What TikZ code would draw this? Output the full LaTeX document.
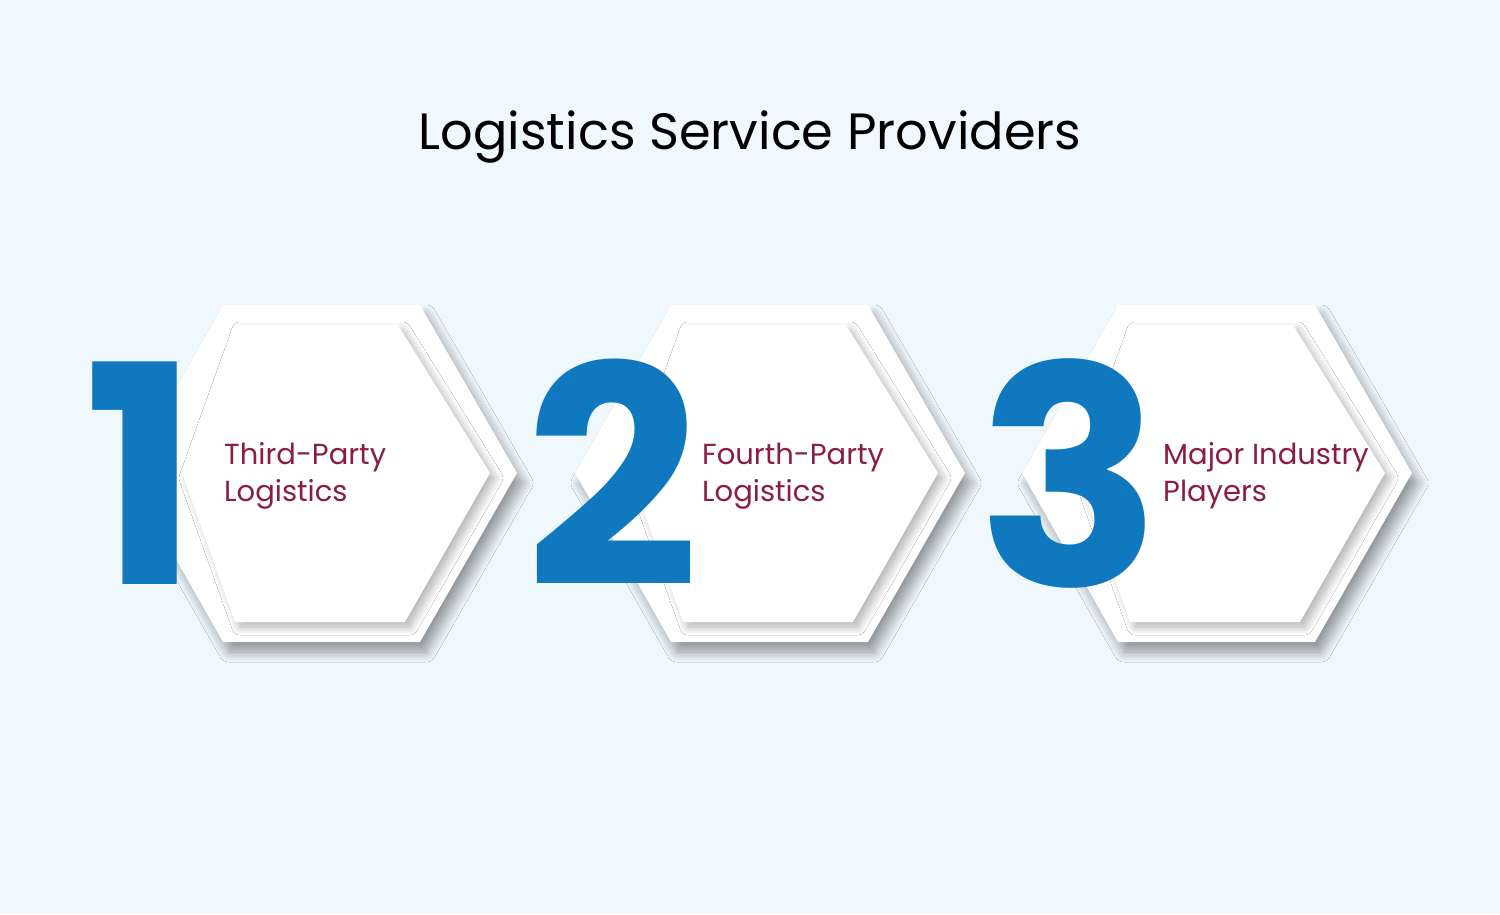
\documentclass[tikz,border=0pt]{standalone}
\usepackage{fontspec}
\setmainfont{Poppins}
\usetikzlibrary{shadows.blur}
\definecolor{bgblue}{HTML}{EEF8FD}
\definecolor{numblue}{HTML}{0F78BE}
\definecolor{labred}{HTML}{8A1C46}
\tikzset{
  outerhex/.style={fill=white,blur shadow={shadow xshift=6pt,shadow yshift=-10pt,shadow blur radius=10pt,shadow blur steps=12,shadow opacity=40}},
  innerhex/.style={fill=white,blur shadow={shadow xshift=5pt,shadow yshift=-5pt,shadow blur radius=8pt,shadow blur steps=10,shadow opacity=30}},
  numlabel/.style={text=numblue,font=\fontsize{305}{305}\selectfont\bfseries,inner sep=0},
  itemlabel/.style={text=labred,font=\fontsize{29}{37}\selectfont,align=left,anchor=west,inner sep=0}
}
\begin{document}
\begin{tikzpicture}[x=1pt,y=-1pt]
\fill[bgblue](0,0)rectangle(1500,914);
\useasboundingbox(0,0)rectangle(1500,914);
\node[font=\fontsize{51}{54}\selectfont,inner sep=0](title)at(750,137){Logistics Service Providers};
\foreach \dx in {0,448,895}{
  \begin{scope}[xshift=\dx]
  \path[outerhex](223,305)--(420,305)--(517,473)--(420,642)--(223,642)--(127,473)--cycle;
  \path[innerhex](235,325)--(398,325)--(490,473)--(405,622)--(235,622)--(182,473)--cycle;
  \end{scope}
}
\node[itemlabel](item1)at(224,476){Third-Party\\Logistics};
\node[itemlabel](item2)at(702,476){Fourth-Party\\Logistics};
\node[itemlabel](item3)at(1163,476){Major Industry\\Players};
\node[numlabel](num1)at(142,473){1};
\node[numlabel](num2)at(613,473){2};
\node[numlabel](num3)at(1070,473){3};
\end{tikzpicture}
\end{document}
